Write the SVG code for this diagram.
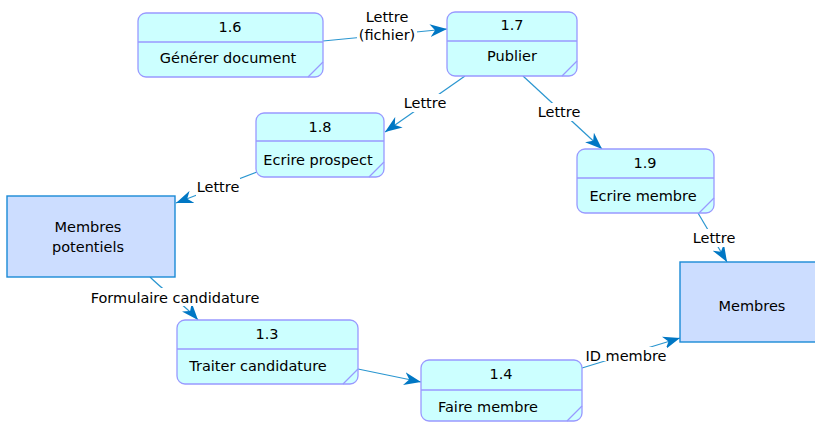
<svg xmlns="http://www.w3.org/2000/svg" width="815" height="423" viewBox="0 0 815 423">
<defs>
<style>
.proc{fill:#ccffff;stroke:#9999ff;stroke-width:1.3}
.div{stroke:#9999ff;stroke-width:1.3;fill:none}
.store{fill:#ccddff;stroke:#1a8ad6;stroke-width:1.4}
text{font-family:"DejaVu Sans","Liberation Sans",sans-serif;font-size:14.5px;fill:#000;text-anchor:middle}
.flow{stroke:#2a96d0;stroke-width:1.2;fill:none}
.bg{fill:#ffffff}
</style>
<marker id="arr" viewBox="-17 -7 18 14" refX="0" refY="0" markerWidth="18" markerHeight="14" markerUnits="userSpaceOnUse" orient="auto">
<path d="M0,0 L-17,-6.5 L-12,0 L-17,6.5 Z" fill="#0077c4"/>
</marker>
</defs>
<rect width="815" height="423" fill="#ffffff"/>
<g id="connectors">
<path class="flow" d="M323,41 L447,29" marker-end="url(#arr)"/>
<path class="flow" d="M465,76 L385,132" marker-end="url(#arr)"/>
<path class="flow" d="M523,76 L602,149" marker-end="url(#arr)"/>
<path class="flow" d="M257,172 L176,203" marker-end="url(#arr)"/>
<path class="flow" d="M698,213 L727,262" marker-end="url(#arr)"/>
<path class="flow" d="M150,277 C165,292 185,305 198,320" marker-end="url(#arr)"/>
<path class="flow" d="M358,369 L421,382" marker-end="url(#arr)"/>
<path class="flow" d="M582,368 L680,338" marker-end="url(#arr)"/>
<rect class="bg" x="357" y="9" width="60" height="36"/>
<text x="387" y="22">Lettre</text>
<text x="387" y="40">(fichier)</text>
<rect class="bg" x="403" y="94" width="44" height="18"/>
<text x="425" y="108">Lettre</text>
<rect class="bg" x="537" y="103" width="44" height="18"/>
<text x="559" y="117">Lettre</text>
<rect class="bg" x="196" y="178" width="44" height="18"/>
<text x="218" y="192">Lettre</text>
<rect class="bg" x="692" y="229" width="44" height="18"/>
<text x="714" y="243">Lettre</text>
<rect class="bg" x="88" y="288" width="174" height="18"/>
<text x="175" y="303">Formulaire candidature</text>
<rect class="bg" x="587" y="347" width="80" height="14"/>
<text x="626" y="361">ID membre</text>
</g>
<g id="n16">
<rect class="proc" x="138" y="13" width="185" height="64" rx="8"/>
<path class="div" d="M138,42 H323 M308,77 L323,62"/>
<text x="230" y="32">1.6</text>
<text x="228" y="63">Générer document</text>
</g>
<g id="n17">
<rect class="proc" x="447" y="12" width="130" height="64" rx="8"/>
<path class="div" d="M447,41 H577 M562,76 L577,61"/>
<text x="512" y="30">1.7</text>
<text x="512" y="61">Publier</text>
</g>
<g id="n18">
<rect class="proc" x="256" y="113" width="128" height="64" rx="8"/>
<path class="div" d="M256,141 H384 M369,177 L384,162"/>
<text x="320" y="132">1.8</text>
<text x="318" y="165">Ecrire prospect</text>
</g>
<g id="n19">
<rect class="proc" x="577" y="149" width="137" height="64" rx="8"/>
<path class="div" d="M577,178 H714 M699,213 L714,198"/>
<text x="645" y="168">1.9</text>
<text x="643" y="201">Ecrire membre</text>
</g>
<g id="n13">
<rect class="proc" x="177" y="320" width="181" height="64" rx="8"/>
<path class="div" d="M177,349 H358 M343,384 L358,369"/>
<text x="267" y="339">1.3</text>
<text x="258" y="371">Traiter candidature</text>
</g>
<g id="n14">
<rect class="proc" x="421" y="360" width="161" height="61" rx="8"/>
<path class="div" d="M421,390 H582 M567,421 L582,406"/>
<text x="501" y="379">1.4</text>
<text x="488" y="412">Faire membre</text>
</g>
<g id="membres-potentiels">
<rect class="store" x="7" y="196" width="168" height="81"/>
<text x="88" y="232">Membres</text>
<text x="88" y="252">potentiels</text>
</g>
<g id="membres">
<rect class="store" x="680" y="262" width="140" height="80"/>
<text x="752" y="311">Membres</text>
</g>
</svg>
